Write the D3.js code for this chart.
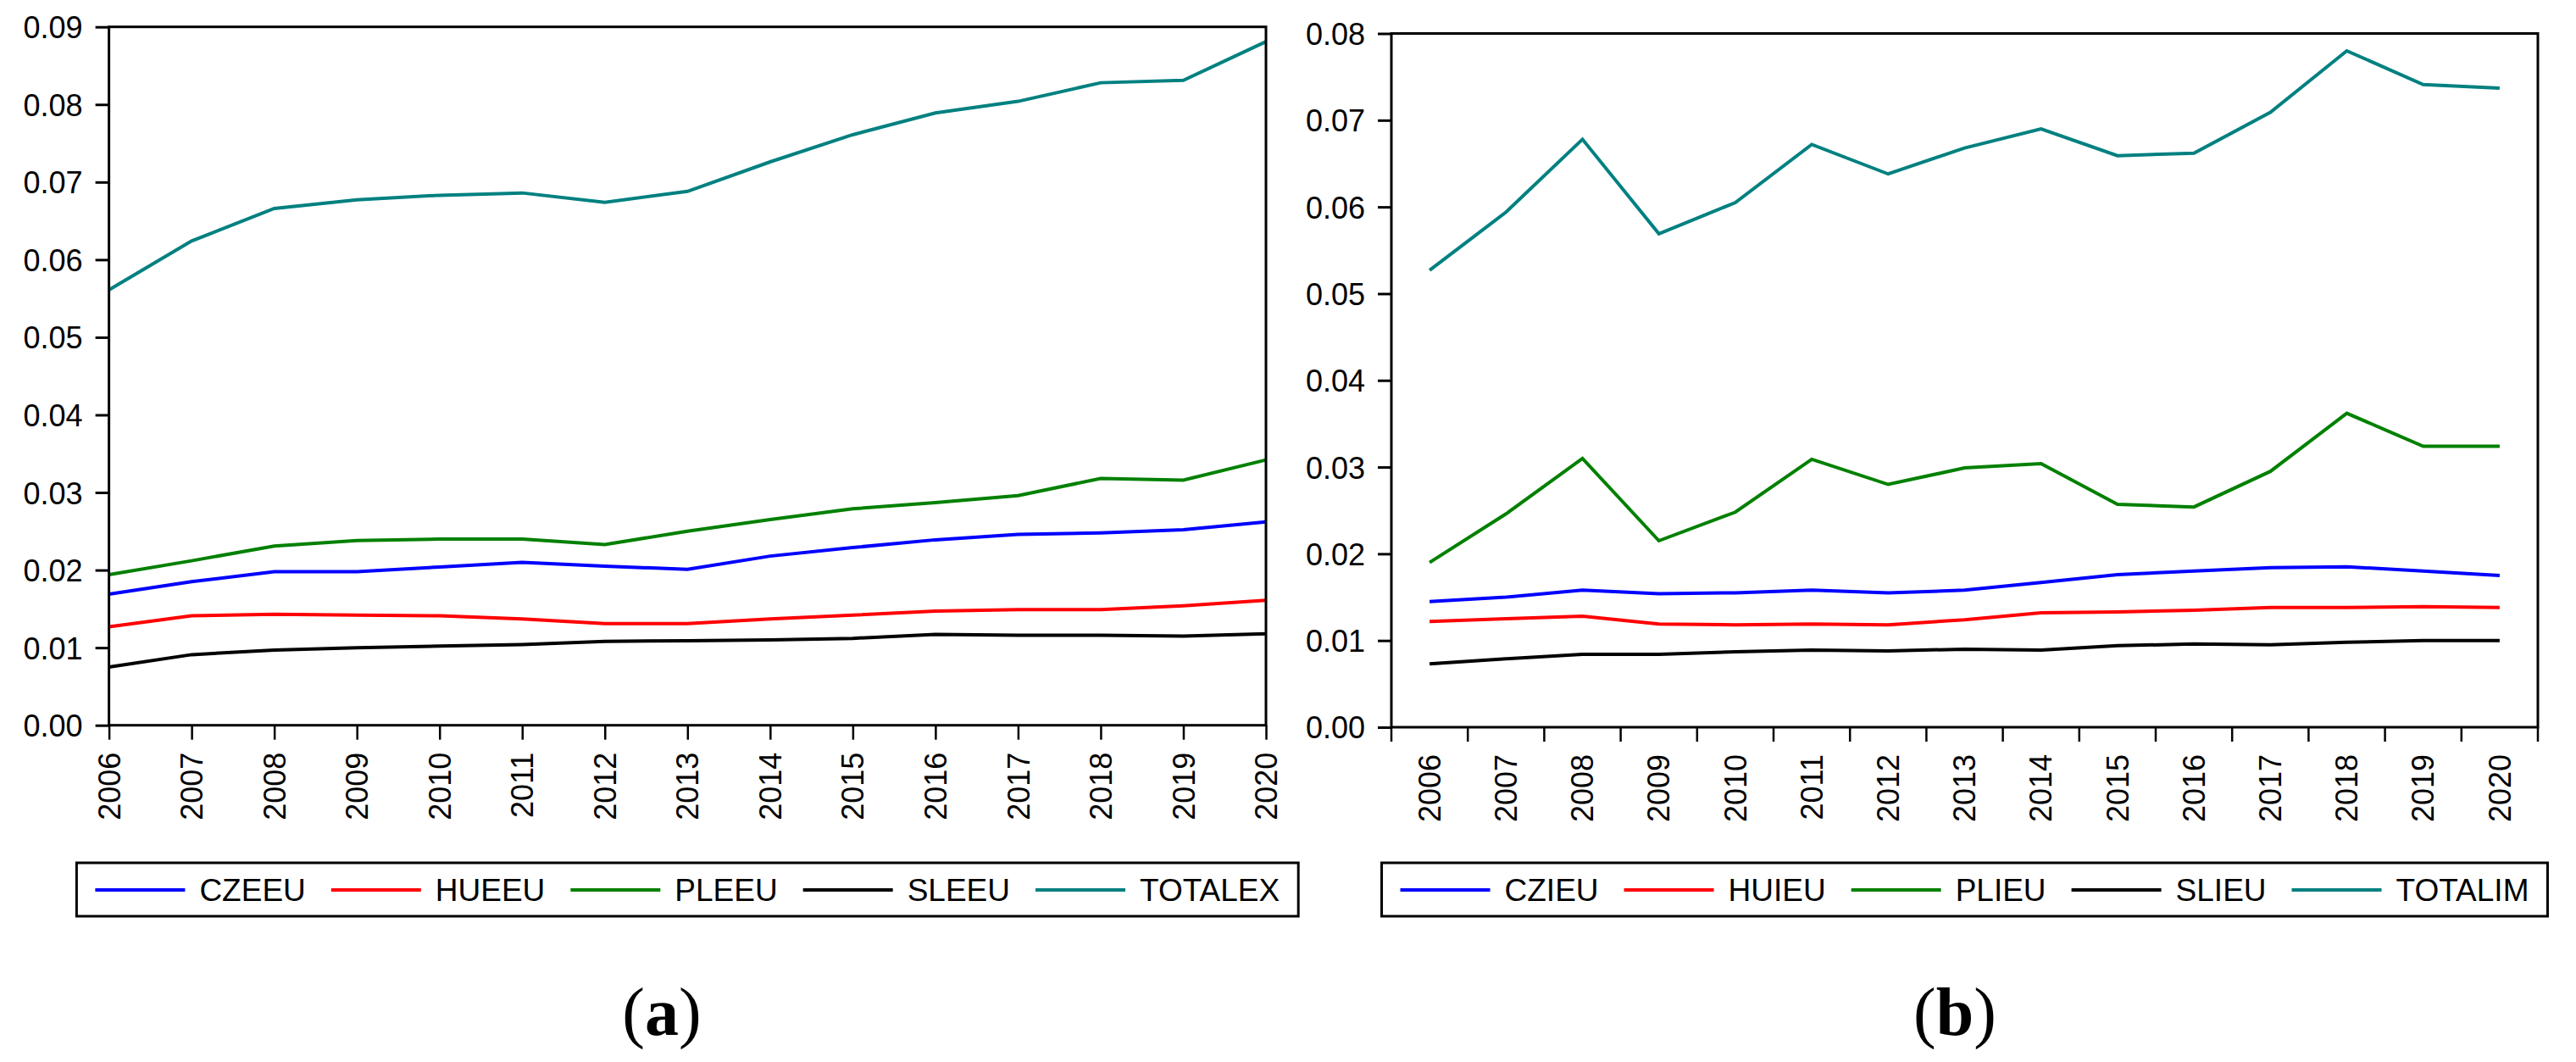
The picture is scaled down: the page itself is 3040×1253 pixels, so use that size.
<!DOCTYPE html>
<html lang="en">
<head>
<meta charset="UTF-8">
<title>EU export / import shares 2006-2020</title>
<script src="https://d3js.org/d3.v7.min.js"></script>
<style>
    body { margin: 0; background: #fff; }
    svg { display: block; }
    text { font-family: "Liberation Sans", Arial, sans-serif; fill: #000; }
    .caption { font-family: "Liberation Serif", "Times New Roman", serif; }
</style>
</head>
<body>
<div id="chart"></div>
<script>
// years on the x axis (same for both panels)
const years = ["2006", "2007", "2008", "2009", "2010", "2011", "2012", "2013",
               "2014", "2015", "2016", "2017", "2018", "2019", "2020"];

// panel (a): exports
const czeeu   = [0.0169, 0.0185, 0.0198, 0.0198, 0.0204, 0.0210, 0.0205, 0.0201, 0.0218, 0.0229, 0.0239, 0.0246, 0.0248, 0.0252, 0.0262];
const hueeu   = [0.0127, 0.0141, 0.0143, 0.0142, 0.0141, 0.0137, 0.0131, 0.0131, 0.0137, 0.0142, 0.0147, 0.0149, 0.0149, 0.0154, 0.0161];
const pleeu   = [0.0194, 0.0212, 0.0231, 0.0238, 0.0240, 0.0240, 0.0233, 0.0250, 0.0265, 0.0279, 0.0287, 0.0296, 0.0318, 0.0316, 0.0342];
const sleeu   = [0.0075, 0.0091, 0.0097, 0.0100, 0.0102, 0.0104, 0.0108, 0.0109, 0.0110, 0.0112, 0.0117, 0.0116, 0.0116, 0.0115, 0.0118];
const totalex = [0.0561, 0.0624, 0.0666, 0.0677, 0.0683, 0.0686, 0.0674, 0.0688, 0.0726, 0.0761, 0.0789, 0.0804, 0.0828, 0.0831, 0.0881];

// panel (b): imports
const czieu   = [0.0145, 0.0150, 0.0158, 0.0154, 0.0155, 0.0158, 0.0155, 0.0158, 0.0167, 0.0176, 0.0180, 0.0184, 0.0185, 0.0180, 0.0175];
const huieu   = [0.0122, 0.0125, 0.0128, 0.0119, 0.0118, 0.0119, 0.0118, 0.0124, 0.0132, 0.0133, 0.0135, 0.0138, 0.0138, 0.0139, 0.0138];
const plieu   = [0.0190, 0.0246, 0.0310, 0.0215, 0.0248, 0.0309, 0.0280, 0.0299, 0.0304, 0.0257, 0.0254, 0.0295, 0.0362, 0.0324, 0.0324];
const slieu   = [0.0073, 0.0079, 0.0084, 0.0084, 0.0087, 0.0089, 0.0088, 0.0090, 0.0089, 0.0094, 0.0096, 0.0095, 0.0098, 0.0100, 0.0100];
const totalim = [0.0527, 0.0594, 0.0678, 0.0569, 0.0605, 0.0672, 0.0638, 0.0668, 0.0690, 0.0659, 0.0662, 0.0709, 0.0780, 0.0741, 0.0737];

const yTicksA = [0, 0.01, 0.02, 0.03, 0.04, 0.05, 0.06, 0.07, 0.08, 0.09];
const yTicksB = [0, 0.01, 0.02, 0.03, 0.04, 0.05, 0.06, 0.07, 0.08];

const colors = ["#0000ff", "#ff0000", "#008000", "#000000", "#008080"];

const W = 3040, H = 1253;
const svg = d3.select("#chart").append("svg")
    .attr("width", W).attr("height", H);
svg.append("rect").attr("width", W).attr("height", H).attr("fill", "#fff");

function drawPanel(cfg) {
    const g = svg.append("g");
    const [x0, x1] = cfg.xRange;
    const [yb, yt] = cfg.yRange;

    const x = cfg.band
        ? d3.scaleBand().domain(years).range([x0, x1])
        : d3.scalePoint().domain(years).range([x0, x1]);
    const off = cfg.band ? x.bandwidth() / 2 : 0;
    const y = d3.scaleLinear().domain([0, d3.max(cfg.yTicks)]).range([yb, yt]);

    // y axis
    const ya = g.append("g")
        .attr("transform", `translate(${x0},0)`)
        .call(d3.axisLeft(y).tickValues(cfg.yTicks).tickFormat(d3.format(".2f"))
            .tickSize(16).tickSizeOuter(0).tickPadding(15));
    ya.select(".domain").remove();
    ya.selectAll("line").attr("stroke-width", 3);
    ya.selectAll("text").style("font-size", "36px").attr("dy", "0.36em");

    // x axis
    const xa = g.append("g")
        .attr("transform", `translate(0,${yb})`)
        .call(d3.axisBottom(x).tickSize(cfg.band ? 0 : 17).tickSizeOuter(0));
    xa.select(".domain").remove();
    xa.selectAll("line").attr("stroke-width", 2.5);
    xa.selectAll("text")
        .style("font-size", "36px")
        .attr("transform", "rotate(-90)")
        .attr("text-anchor", "end")
        .attr("x", -32).attr("y", 0).attr("dy", "0.35em");

    if (cfg.band) {
        // ticks between the categories
        const edges = years.map(d => x(d)).concat([x1]);
        g.append("g").selectAll("line").data(edges).join("line")
            .attr("x1", d => d).attr("x2", d => d)
            .attr("y1", yb).attr("y2", yb + 17)
            .attr("stroke", "#000").attr("stroke-width", 2.5);
    }

    // lines
    const line = d3.line()
        .x((d, i) => x(years[i]) + off)
        .y(d => y(d));
    cfg.series.forEach((s, i) => {
        g.append("path")
            .datum(s.values)
            .attr("fill", "none")
            .attr("stroke", colors[i])
            .attr("stroke-width", 4)
            .attr("d", line);
    });

    // frame
    g.append("rect")
        .attr("x", x0).attr("y", yt)
        .attr("width", x1 - x0).attr("height", yb - yt)
        .attr("fill", "none").attr("stroke", "#000").attr("stroke-width", 3);

    // legend
    const lg = g.append("g");
    const ly = 1050;
    let cx = 0;
    cfg.series.forEach((s, i) => {
        lg.append("line")
            .attr("x1", cx).attr("x2", cx + 106)
            .attr("y1", ly).attr("y2", ly)
            .attr("stroke", colors[i]).attr("stroke-width", 4);
        const t = lg.append("text")
            .attr("x", cx + 123).attr("y", ly).attr("dy", "0.36em")
            .style("font-size", "37px")
            .text(s.name);
        cx += 123 + t.node().getComputedTextLength() + 30;
    });
    const contentW = cx - 30;
    const boxW = contentW + 44;
    const mid = (x0 + x1) / 2;
    const bx = mid - boxW / 2;
    lg.attr("transform", `translate(${bx + 22},0)`);
    g.insert("rect", "g")
        .attr("x", bx).attr("y", 1018)
        .attr("width", boxW).attr("height", 63)
        .attr("fill", "#fff").attr("stroke", "#000").attr("stroke-width", 3);

    // caption
    const cap = g.append("text").attr("class", "caption")
        .attr("x", cfg.capX).attr("y", 1221)
        .attr("text-anchor", "middle")
        .style("font-size", "80px");
    cap.append("tspan").text("(");
    cap.append("tspan").attr("font-weight", "bold").text(cfg.cap);
    cap.append("tspan").text(")");
}

drawPanel({
    xRange: [128.6, 1494],
    yRange: [855.7, 31.7],
    yTicks: yTicksA,
    band: false,
    series: [
        { name: "CZEEU", values: czeeu },
        { name: "HUEEU", values: hueeu },
        { name: "PLEEU", values: pleeu },
        { name: "SLEEU", values: sleeu },
        { name: "TOTALEX", values: totalex }
    ],
    cap: "a",
    capX: 781
});

drawPanel({
    xRange: [1642, 2995],
    yRange: [858, 39.5],
    yTicks: yTicksB,
    band: true,
    series: [
        { name: "CZIEU", values: czieu },
        { name: "HUIEU", values: huieu },
        { name: "PLIEU", values: plieu },
        { name: "SLIEU", values: slieu },
        { name: "TOTALIM", values: totalim }
    ],
    cap: "b",
    capX: 2307
});
</script>
</body>
</html>
